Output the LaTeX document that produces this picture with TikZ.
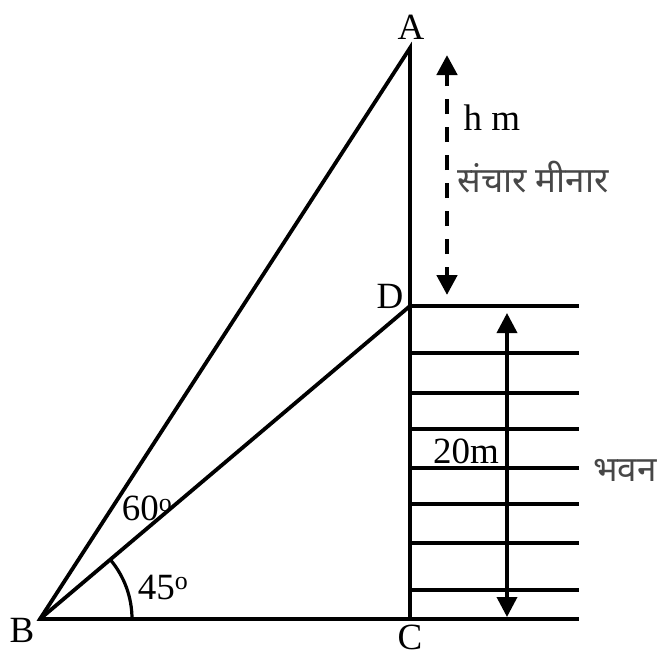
\documentclass[tikz,border=0pt]{standalone}
\usepackage{fontspec}
\setmainfont{Liberation Serif}
\newfontfamily\deva[Script=Devanagari]{Noto Sans}
\usetikzlibrary{arrows.meta}
\tikzset{
  edge/.style={line width=3.8pt, line join=miter},
  floor/.style={line width=3.8pt},
  dimarrow/.style={line width=3.6pt, {Triangle[length=20pt,width=20pt]}-{Triangle[length=20pt,width=20pt]}},
  vlabel/.style={font=\fontsize{37}{40}\selectfont, inner sep=0pt},
  anglabel/.style={font=\fontsize{37}{40}\selectfont, inner sep=0pt},
  hindi/.style={font=\deva\fontsize{35}{40}\selectfont, text=black!72, inner sep=0pt}
}
\begin{document}
\begin{tikzpicture}[x=1pt,y=-1pt]
\useasboundingbox (0,0) rectangle (657,657);
% vertices
\coordinate (B) at (40,619);
\coordinate (C) at (410,619);
\coordinate (D) at (410,306);
\coordinate (A) at (410,48);
% triangle
\draw[edge] (C) -- (B) -- (A) -- (C);
\draw[edge] (B) -- (D);
% building floors
\foreach \y/\n in {306/f1,353/f2,393/f3,429/f4,468/f5,504/f6,543/f7,590/f8,619/f9}{
  \coordinate (\n l) at (410,\y);
  \coordinate (\n r) at (579,\y);
  \draw[floor] (\n l) -- (\n r);
}
% angle arc
\draw[line width=3.2pt] (B) ++(0:92) arc[start angle=0, end angle=-40.2, radius=92];
% arrows
\coordinate (dt) at (447,55);
\coordinate (db) at (447,295);
\draw[dimarrow, line width=4.6pt, dash pattern=on 15pt off 13pt, dash phase=6pt] (db) -- (dt);
\coordinate (bt) at (507,313);
\coordinate (bb) at (507,617);
\draw[dimarrow] (bb) -- (bt);
% labels
\node[vlabel] (lA) at (411,27) {A};
\node[vlabel] (lB) at (22,630) {B};
\node[vlabel] (lC) at (410,637) {C};
\node[vlabel] (lD) at (390,296) {D};
\node[anglabel] (l60) at (147,508) {60\textsuperscript{o}};
\node[anglabel] (l45) at (163,587) {45\textsuperscript{o}};
\node[vlabel] (lh) at (492,118) {h m};
\node[hindi] (lt) at (533,177) {संचार मीनार};
\node[vlabel] (l20) at (466,451) {20m};
\node[hindi] (lb) at (625,470) {भवन};
\end{tikzpicture}
\end{document}
